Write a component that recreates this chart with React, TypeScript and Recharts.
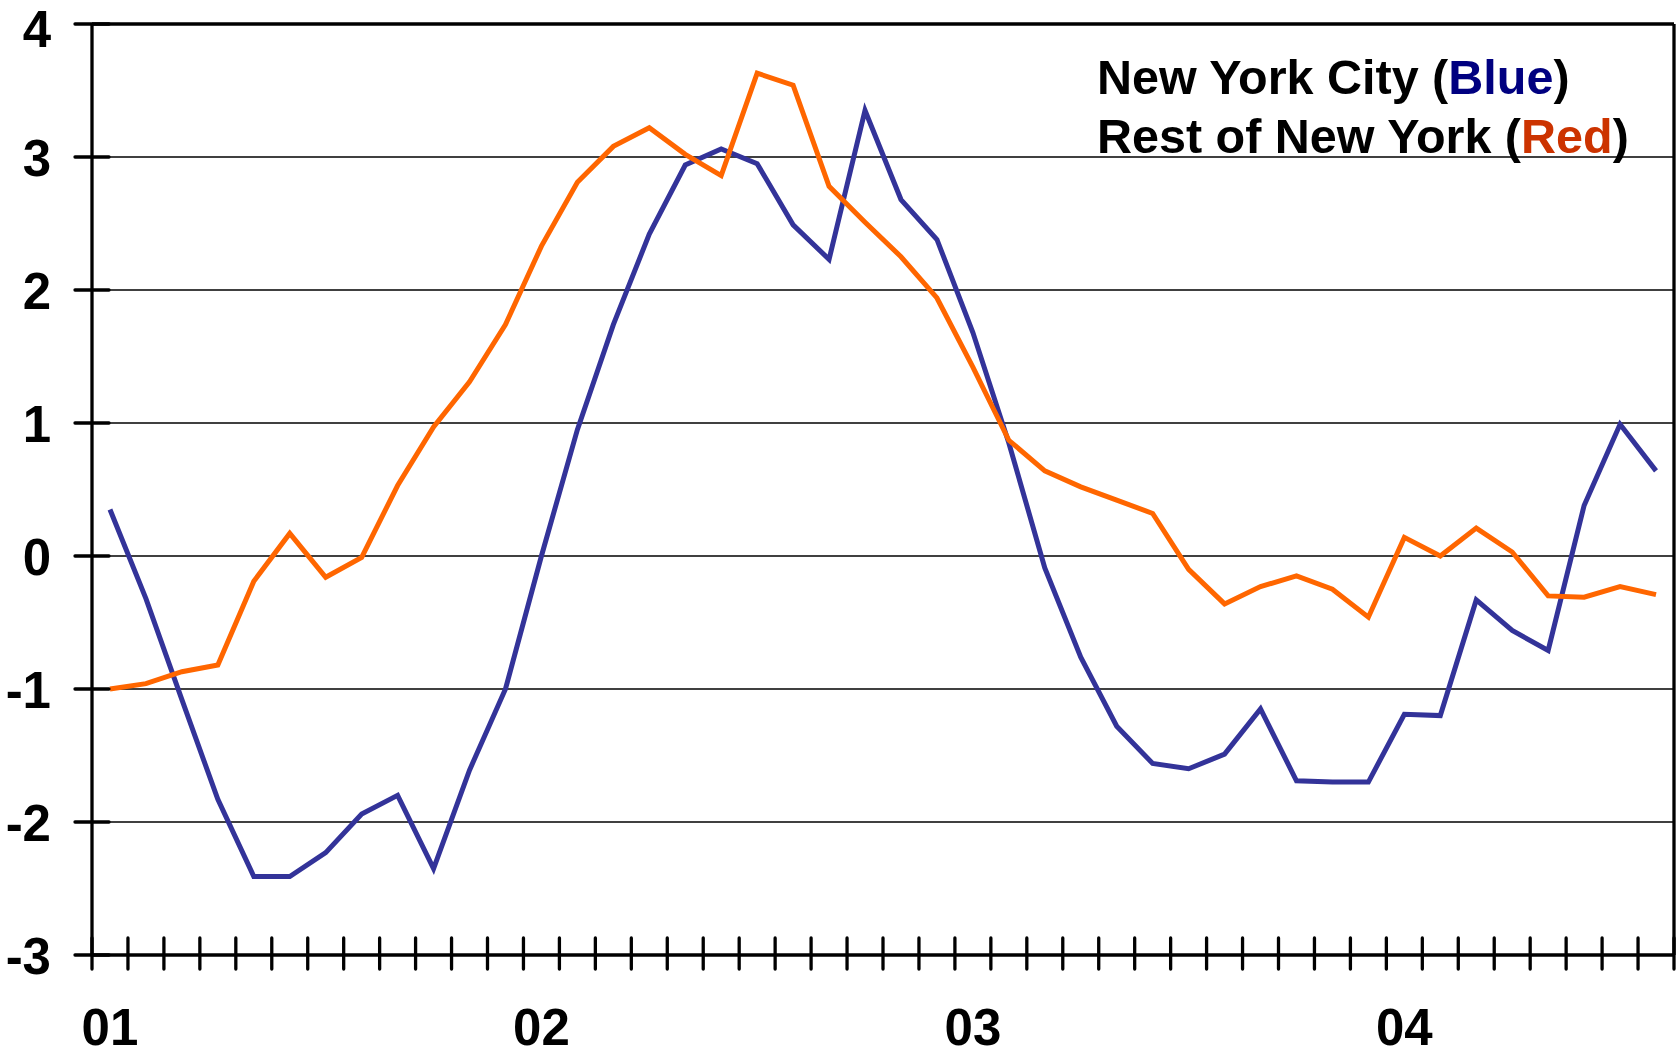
import React from 'react';
import { LineChart, Line, XAxis, YAxis, CartesianGrid, ReferenceLine } from 'recharts';

// Monthly categories, Jan 2001 .. Aug 2004
const months = [
  'Jan 01', 'Feb 01', 'Mar 01', 'Apr 01', 'May 01', 'Jun 01', 'Jul 01', 'Aug 01', 'Sep 01', 'Oct 01', 'Nov 01', 'Dec 01',
  'Jan 02', 'Feb 02', 'Mar 02', 'Apr 02', 'May 02', 'Jun 02', 'Jul 02', 'Aug 02', 'Sep 02', 'Oct 02', 'Nov 02', 'Dec 02',
  'Jan 03', 'Feb 03', 'Mar 03', 'Apr 03', 'May 03', 'Jun 03', 'Jul 03', 'Aug 03', 'Sep 03', 'Oct 03', 'Nov 03', 'Dec 03',
  'Jan 04', 'Feb 04', 'Mar 04', 'Apr 04', 'May 04', 'Jun 04', 'Jul 04', 'Aug 04',
];

// Year labels shown under January of each year
const yearLabels: Record<string, string> = {
  'Jan 01': '01',
  'Jan 02': '02',
  'Jan 03': '03',
  'Jan 04': '04',
};

const nycValues = [
  0.35, -0.32, -1.08, -1.83, -2.41, -2.41, -2.23, -1.94, -1.80, -2.35, -1.61, -1.00,
  0.00, 0.95, 1.74, 2.42, 2.94, 3.06, 2.95, 2.49, 2.23, 3.35, 2.68, 2.38,
  1.68, 0.85, -0.09, -0.76, -1.28, -1.56, -1.60, -1.49, -1.15, -1.69, -1.70, -1.70,
  -1.19, -1.20, -0.33, -0.56, -0.71, 0.38, 0.99, 0.64,
];

const restValues = [
  -1.00, -0.96, -0.87, -0.82, -0.19, 0.17, -0.16, -0.01, 0.53, 0.97, 1.31, 1.74,
  2.33, 2.81, 3.08, 3.22, 3.02, 2.86, 3.63, 3.54, 2.78, 2.51, 2.25, 1.94,
  1.42, 0.87, 0.64, 0.52, 0.42, 0.32, -0.10, -0.36, -0.23, -0.15, -0.25, -0.46,
  0.14, 0.00, 0.21, 0.03, -0.30, -0.31, -0.23, -0.29,
];

const yTicks = [-3, -2, -1, 0, 1, 2, 3, 4];

const data = months.map((m, i) => ({ i, month: m, nyc: nycValues[i], rest: restValues[i] }));
const xTicks = months.map((_, i) => i);

const W = 1677;
const H = 1057;
const LEFT = 92;
const RIGHT_MARGIN = 3;
const TOP = 24;
const X_AXIS_H = 100;
const BOTTOM_MARGIN = 2;
const HALF_BAND = (W - RIGHT_MARGIN - LEFT) / months.length / 2;

const FONT = '"Liberation Sans", Arial, Helvetica, sans-serif';

const XTick = (props: any) => {
  const { x, y, payload } = props;
  const idx = payload.value as number;
  const label = yearLabels[months[idx]];
  const bx = x - HALF_BAND;
  return (
    <g>
      <line x1={bx} x2={bx} y1={y - 17} y2={y + 14} stroke="#000" strokeWidth={3.3} strokeLinecap="round" />
      {idx === months.length - 1 && (
        <line x1={x + HALF_BAND} x2={x + HALF_BAND} y1={y - 17} y2={y + 14} stroke="#000" strokeWidth={3.3} strokeLinecap="round" />
      )}
      {label && (
        <text x={x} y={y + 90} textAnchor="middle" fontFamily={FONT} fontWeight="bold" fontSize={51} fill="#000">
          {label}
        </text>
      )}
    </g>
  );
};

const YTick = (props: any) => {
  const { x, y, payload } = props;
  return (
    <g>
      <line x1={x - 17} x2={x + 17} y1={y} y2={y} stroke="#000" strokeWidth={3.3} strokeLinecap="round" />
      <text x={x - 41} y={Math.max(y + 19, 47)} textAnchor="end" fontFamily={FONT} fontWeight="bold" fontSize={51} fill="#000">
        {payload.value}
      </text>
    </g>
  );
};

export default function App() {
  return (
    <div style={{ position: 'absolute', left: 0, top: 0, width: W, height: H, background: '#fff' }}>
      <LineChart
        width={W}
        height={H}
        data={data}
        margin={{ top: TOP, right: RIGHT_MARGIN, left: 0, bottom: BOTTOM_MARGIN }}
      >
        <CartesianGrid horizontal vertical={false} stroke="#000" strokeWidth={1.5} />
        <XAxis
          dataKey="i"
          type="number"
          domain={[-0.5, months.length - 0.5]}
          allowDataOverflow
          ticks={xTicks}
          interval={0}
          height={X_AXIS_H}
          tickSize={0}
          tickMargin={0}
          tickLine={false}
          axisLine={{ stroke: '#000', strokeWidth: 3.3 }}
          tick={<XTick />}
        />
        <YAxis
          domain={[-3, 4]}
          allowDataOverflow
          ticks={yTicks}
          interval={0}
          width={LEFT}
          tickSize={0}
          tickMargin={0}
          tickLine={false}
          axisLine={{ stroke: '#000', strokeWidth: 3.3 }}
          tick={<YTick />}
        />
        <ReferenceLine y={4} stroke="#000" strokeWidth={3.3} />
        <ReferenceLine x={months.length - 0.5} stroke="#000" strokeWidth={3.3} />
        <Line
          dataKey="nyc"
          type="linear"
          stroke="#333399"
          strokeWidth={5}
          dot={false}
          isAnimationActive={false}
        />
        <Line
          dataKey="rest"
          type="linear"
          stroke="#FF6600"
          strokeWidth={5}
          dot={false}
          isAnimationActive={false}
        />
      </LineChart>
      <div
        style={{
          position: 'absolute',
          left: 1097,
          top: 48,
          fontFamily: FONT,
          fontWeight: 'bold',
          fontSize: 48.5,
          lineHeight: '59px',
          color: '#000',
          whiteSpace: 'nowrap',
        }}
      >
        <div>
          New York City (<span style={{ color: '#000080' }}>Blue</span>)
        </div>
        <div>
          Rest of New York (<span style={{ color: '#CC3300' }}>Red</span>)
        </div>
      </div>
    </div>
  );
}
